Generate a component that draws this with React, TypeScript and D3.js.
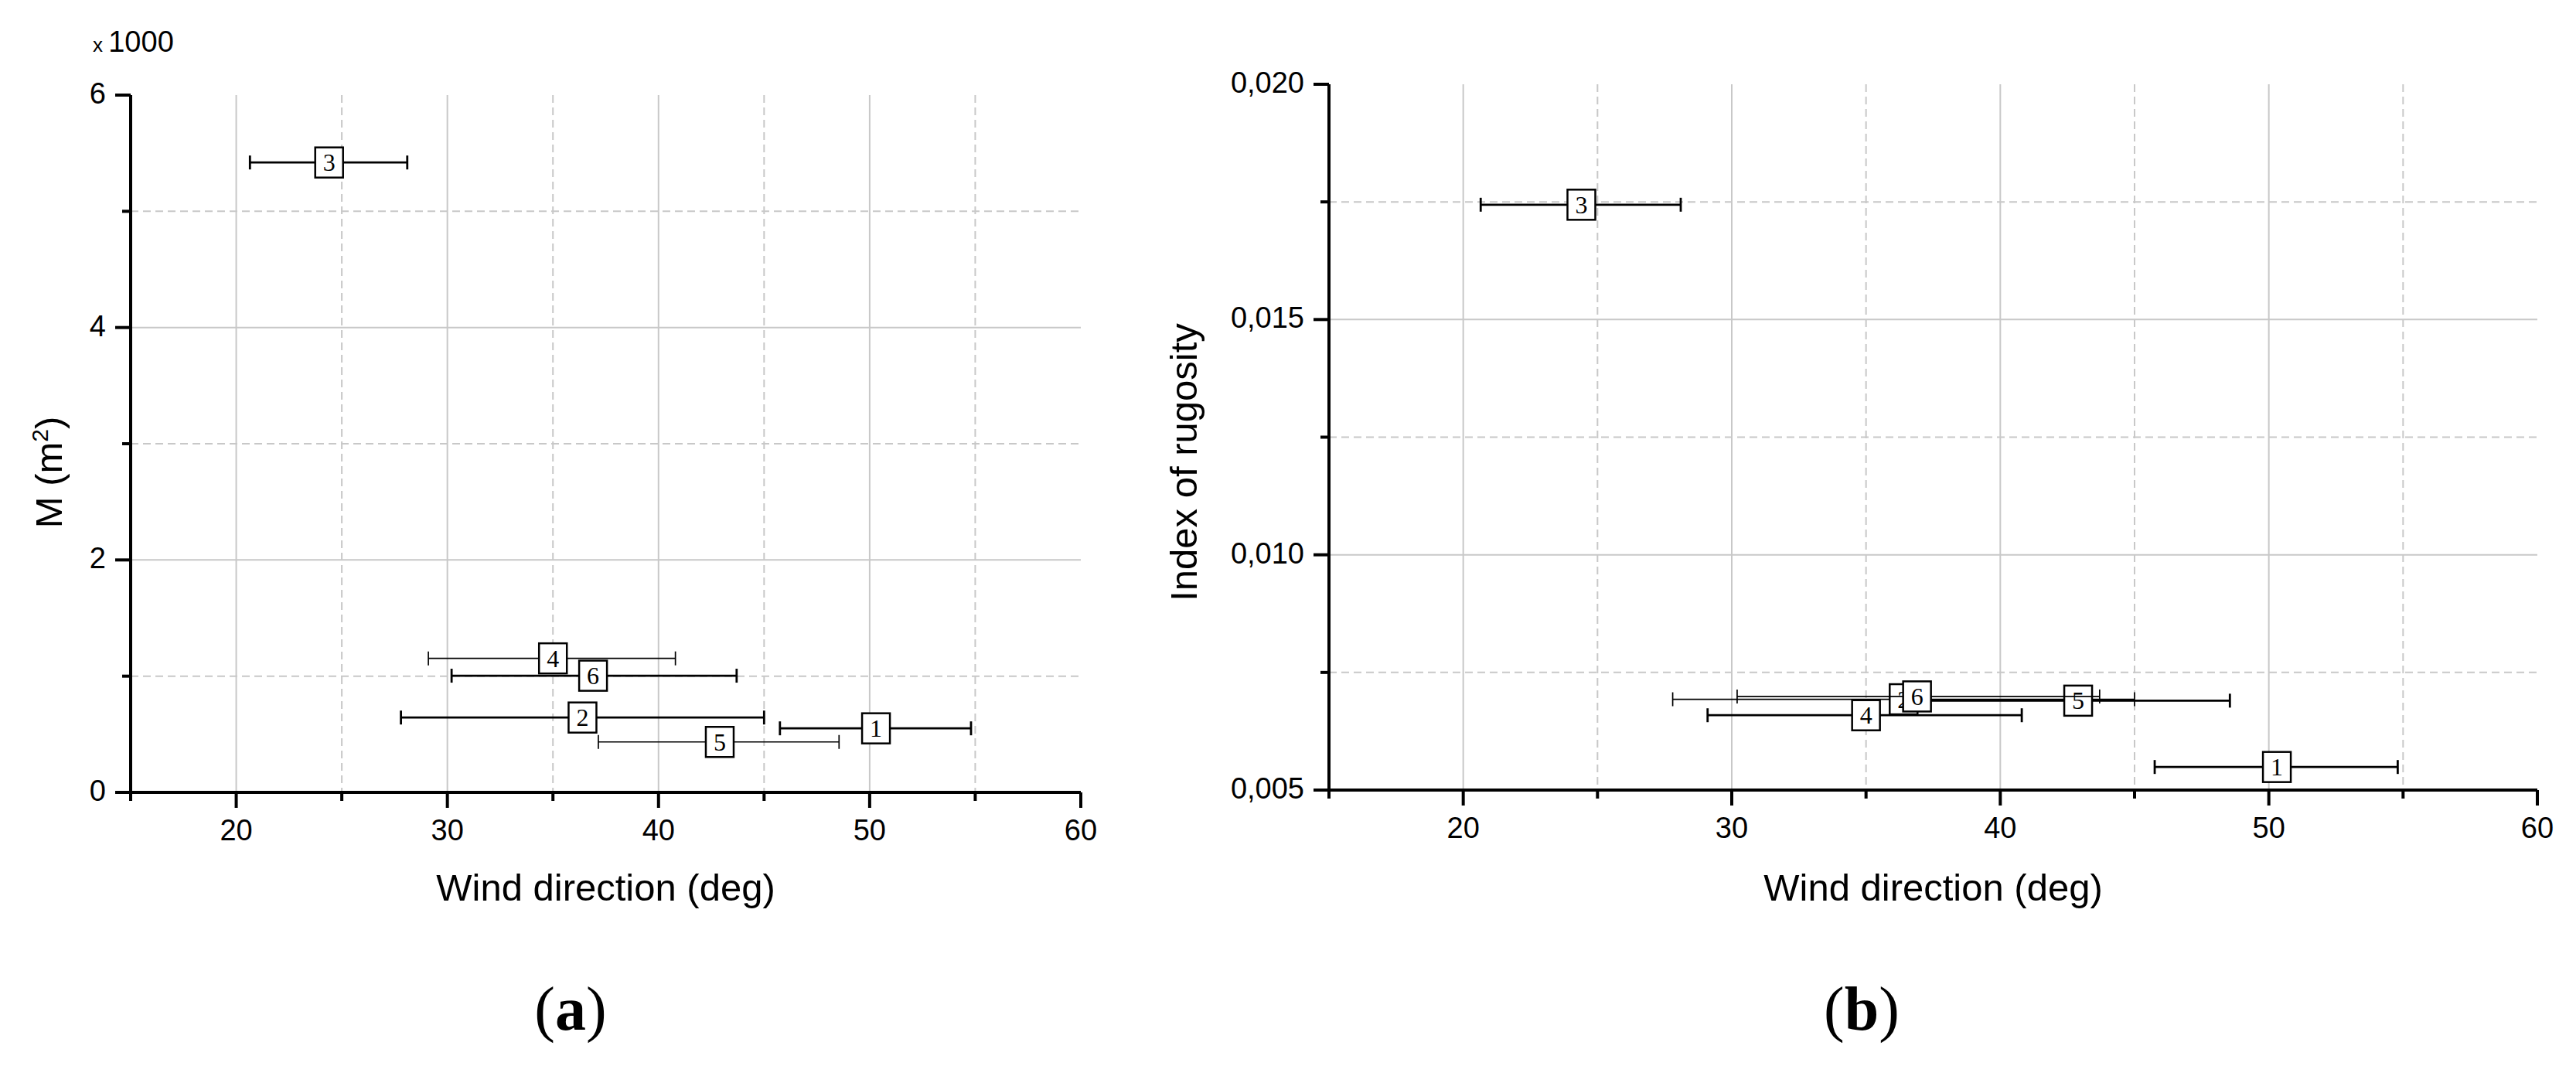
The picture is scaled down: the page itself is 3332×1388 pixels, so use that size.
import React from "react";
import * as d3 from "d3";

// sites 1..6, wind direction mean and its range (deg)
const sites = ["1", "2", "3", "4", "5", "6"];
const windDir = [50.3, 36.4, 24.4, 35.0, 42.9, 36.9];
const windLow = [45.75, 27.8, 20.65, 29.1, 37.15, 30.2];
const windHigh = [54.8, 45.0, 28.1, 40.8, 48.55, 43.7];

// panel (a): M in m2, panel (b): index of rugosity
const areaM = [551, 644, 5420, 1153, 434, 1004];
const rugosity = [0.00549, 0.00693, 0.01744, 0.00659, 0.0069, 0.00699];

const xMajor = [20, 30, 40, 50, 60];
const xMinor = [15, 25, 35, 45, 55];
const yMajorA = [0, 2000, 4000, 6000];
const yMinorA = [1000, 3000, 5000];
const yMajorB = [0.005, 0.01, 0.015, 0.02];
const yMinorB = [0.0075, 0.0125, 0.0175];

const GRID = "#c8c8c8";
const SANS = "'Liberation Sans', Arial, sans-serif";
const SERIF = "'Liberation Serif', 'Times New Roman', serif";

type PanelProps = {
  left: number;
  right: number;
  top: number;
  bottom: number;
  yDomain: [number, number];
  values: number[];
  yMajor: number[];
  yMinor: number[];
  fmt: (v: number) => string;
  thin: string[];
  yTitle: React.ReactNode;
  yTitleX: number;
  yTitleY: number;
  label: string;
  labelX: number;
};

function Panel(p: PanelProps) {
  const x = d3.scaleLinear().domain([15, 60]).range([p.left, p.right]);
  const y = d3.scaleLinear().domain(p.yDomain).range([p.bottom, p.top]);
  const cx = (p.left + p.right) / 2;

  return (
    <g>
      {/* grid */}
      {xMajor.filter((v) => v < 60).map((v) => (
        <line key={"gx" + v} x1={x(v)} x2={x(v)} y1={p.top} y2={p.bottom} stroke={GRID} strokeWidth={2} />
      ))}
      {xMinor.filter((v) => v > 15).map((v) => (
        <line key={"gxm" + v} x1={x(v)} x2={x(v)} y1={p.top} y2={p.bottom} stroke={GRID} strokeWidth={2} strokeDasharray="10,6" />
      ))}
      {p.yMajor.slice(1, -1).map((v) => (
        <line key={"gy" + v} x1={p.left} x2={p.right} y1={y(v)} y2={y(v)} stroke={GRID} strokeWidth={2} />
      ))}
      {p.yMinor.map((v) => (
        <line key={"gym" + v} x1={p.left} x2={p.right} y1={y(v)} y2={y(v)} stroke={GRID} strokeWidth={2} strokeDasharray="10,6" />
      ))}

      {/* error bars and labelled boxes */}
      {sites.map((s, i) => {
        const yy = y(p.values[i]);
        const sw = p.thin.includes(s) ? 1.7 : 2.8;
        return (
          <g key={"pt" + s}>
            <line x1={x(windLow[i])} x2={x(windHigh[i])} y1={yy} y2={yy} stroke="#000" strokeWidth={sw} />
            <line x1={x(windLow[i])} x2={x(windLow[i])} y1={yy - 9} y2={yy + 9} stroke="#000" strokeWidth={sw} />
            <line x1={x(windHigh[i])} x2={x(windHigh[i])} y1={yy - 9} y2={yy + 9} stroke="#000" strokeWidth={sw} />
            <rect x={x(windDir[i]) - 18} y={yy - 19.5} width={36} height={39} fill="#fff" stroke="#000" strokeWidth={2.5} />
            <text x={x(windDir[i])} y={yy + 11} textAnchor="middle" fontFamily={SERIF} fontSize={32}>{s}</text>
          </g>
        );
      })}

      {/* axes */}
      <line x1={p.left} x2={p.right} y1={p.bottom} y2={p.bottom} stroke="#000" strokeWidth={4} />
      <line x1={p.left} x2={p.left} y1={p.top} y2={p.bottom} stroke="#000" strokeWidth={4} />
      {xMajor.map((v) => (
        <g key={"tx" + v}>
          <line x1={x(v)} x2={x(v)} y1={p.bottom} y2={p.bottom + 20} stroke="#000" strokeWidth={4} />
          <text x={x(v)} y={p.bottom + 62} textAnchor="middle" fontFamily={SANS} fontSize={38}>{v}</text>
        </g>
      ))}
      {xMinor.map((v) => (
        <line key={"txm" + v} x1={x(v)} x2={x(v)} y1={p.bottom} y2={p.bottom + 11} stroke="#000" strokeWidth={4} />
      ))}
      {p.yMajor.map((v) => (
        <g key={"ty" + v}>
          <line x1={p.left - 20} x2={p.left} y1={y(v)} y2={y(v)} stroke="#000" strokeWidth={4} />
          <text x={p.left - 32} y={y(v) + 11} textAnchor="end" fontFamily={SANS} fontSize={38}>{p.fmt(v)}</text>
        </g>
      ))}
      {p.yMinor.map((v) => (
        <line key={"tym" + v} x1={p.left - 11} x2={p.left} y1={y(v)} y2={y(v)} stroke="#000" strokeWidth={4} />
      ))}

      {/* titles */}
      <text x={cx} y={1165} textAnchor="middle" fontFamily={SANS} fontSize={49}>Wind direction (deg)</text>
      <text transform={`translate(${p.yTitleX},${p.yTitleY}) rotate(-90)`} textAnchor="middle" fontFamily={SANS} fontSize={49}>
        {p.yTitle}
      </text>
      <text x={p.labelX} y={1332} textAnchor="middle" fontFamily={SERIF} fontSize={80}>
        <tspan>(</tspan>
        <tspan fontWeight="bold">{p.label}</tspan>
        <tspan>)</tspan>
      </text>
    </g>
  );
}

export default function App() {
  return (
    <svg width={3332} height={1388} style={{ position: "absolute", left: 0, top: 0, background: "#fff" }}>
      <rect width={3332} height={1388} fill="#fff" />
      <text x={120} y={67} fontFamily={SANS}>
        <tspan fontSize={26}>x </tspan>
        <tspan fontSize={38}>1000</tspan>
      </text>
      <Panel
        left={169}
        right={1398}
        top={123}
        bottom={1025}
        yDomain={[0, 6000]}
        values={areaM}
        yMajor={yMajorA}
        yMinor={yMinorA}
        fmt={(v) => String(v / 1000)}
        thin={["4", "5"]}
        yTitle={
          <>
            <tspan>M (m</tspan>
            <tspan dy={-18} fontSize={30}>2</tspan>
            <tspan dy={18}>)</tspan>
          </>
        }
        yTitleX={80}
        yTitleY={611}
        label="a"
        labelX={738}
      />
      <Panel
        left={1719}
        right={3282}
        top={109}
        bottom={1022}
        yDomain={[0.005, 0.02]}
        values={rugosity}
        yMajor={yMajorB}
        yMinor={yMinorB}
        fmt={(v) => d3.format(".3f")(v).replace(".", ",")}
        thin={["2", "6"]}
        yTitle="Index of rugosity"
        yTitleX={1548}
        yTitleY={598}
        label="b"
        labelX={2408}
      />
    </svg>
  );
}
